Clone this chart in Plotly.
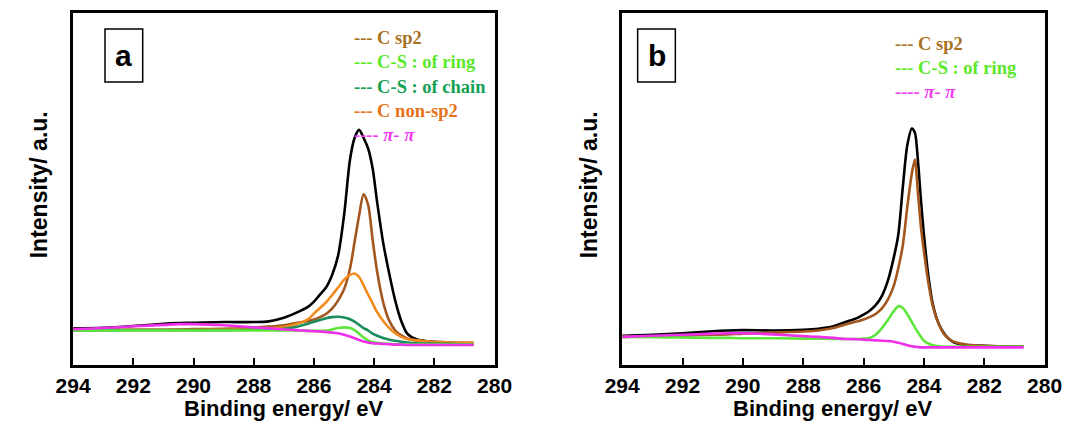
import plotly.graph_objects as go

# ---------------- data ----------------
energy_a = [294, 293, 292, 291, 290.5, 290, 289, 288, 287.5, 287, 286.6, 286.2, 286.0, 285.8,
            285.6, 285.4, 285.2, 285.0, 284.8, 284.65, 284.5, 284.35, 284.2, 284.05, 283.9,
            283.7, 283.5, 283.3, 283.1, 282.9, 282.6, 282.2, 281.5, 281.0, 280.7]
total_a = [10.4, 10.6, 11.1, 11.7, 11.9, 12.0, 12.2, 12.2, 12.4, 13.4, 14.8, 16.5, 18.0, 20.0,
           22.0, 25.5, 31.0, 42.5, 58.5, 64.5, 66.8, 64.5, 61.5, 55.8, 46.2,
           34.7, 26.0, 18.3, 12.5, 8.9, 7.3, 6.7, 6.2, 5.8, 5.8]
csp2_a = [9.9, 9.9, 10.0, 10.0, 10.1, 10.2, 10.3, 10.6, 10.9, 11.3, 11.9, 12.5, 12.9, 13.6,
          14.5, 16.0, 18.3, 21.5, 27.5, 35.0, 42.5, 48.5, 45.5, 35.5, 26.5,
          17.8, 12.6, 9.8, 8.4, 7.5, 7.0, 6.7, 6.4, 6.3, 6.3]
nonsp2_a = [10.0, 10.0, 10.0, 10.0, 10.0, 10.0, 10.1, 10.2, 10.4, 10.8, 11.6, 13.0, 14.6, 16.2,
            17.8, 19.8, 22.0, 24.2, 25.6, 26.0, 25.0, 22.6, 20.0, 17.5, 15.0,
            12.5, 10.5, 9.0, 8.0, 7.4, 7.0, 6.6, 6.4, 6.3, 6.3]
cs_chain_a = [9.9, 9.9, 9.9, 9.9, 9.9, 9.9, 9.9, 10.0, 10.1, 10.3, 10.8, 11.7, 12.3, 12.8,
              13.3, 13.6, 13.7, 13.5, 13.0, 12.3, 11.4, 10.5, 9.8, 8.9, 8.3,
              7.7, 7.2, 6.9, 6.6, 6.4, 6.2, 6.1, 6.0, 5.9, 5.9]
cs_ring_a = [9.8, 9.8, 9.8, 9.8, 9.8, 9.8, 9.8, 9.8, 9.8, 9.8, 9.8, 9.7, 9.7, 9.7,
             9.8, 10.1, 10.5, 10.7, 10.5, 9.9, 8.9, 7.8, 7.0, 6.5, 6.3,
             6.1, 6.0, 5.9, 5.9, 5.8, 5.8, 5.8, 5.8, 5.8, 5.8]
pipi_a = [10.2, 10.5, 11.0, 11.4, 11.6, 11.6, 11.3, 10.7, 10.4, 10.1, 9.9, 9.7, 9.6, 9.5,
          9.4, 9.2, 9.0, 8.6, 8.1, 7.6, 7.1, 6.7, 6.4, 6.2, 6.1,
          6.0, 5.9, 5.8, 5.8, 5.7, 5.7, 5.7, 5.7, 5.7, 5.7]

energy_b = [294, 293, 292, 291, 290.5, 290, 289, 288, 287.5, 287, 286.6, 286.2, 286.0, 285.8,
            285.6, 285.4, 285.2, 285.0, 284.85, 284.7, 284.55, 284.4, 284.3, 284.2, 284.1,
            284.0, 283.85, 283.7, 283.5, 283.3, 283.1, 282.9, 282.6, 282.2, 281.5, 281.0, 280.7]
total_b = [8.3, 8.6, 9.0, 9.6, 9.8, 9.9, 9.8, 10.0, 10.3, 11.0, 12.2, 13.4, 14.3, 15.4,
           17.0, 19.5, 23.8, 30.5, 37.0, 50.5, 62.5, 67.2, 66.0, 58.2, 47.0,
           37.0, 25.1, 17.0, 11.5, 8.6, 6.9, 6.1, 5.7, 5.5, 5.3, 5.2, 5.2]
csp2_b = [8.0, 8.1, 8.3, 8.6, 8.7, 8.9, 9.2, 9.5, 9.8, 10.5, 11.5, 12.4, 12.9, 13.6,
          14.5, 16.0, 18.5, 22.5, 27.5, 34.0, 45.0, 54.5, 58.4, 49.0, 39.3,
          32.3, 23.2, 16.5, 11.5, 8.4, 7.0, 6.3, 5.8, 5.5, 5.3, 5.2, 5.2]
cs_ring_b = [8.0, 7.9, 7.8, 7.7, 7.7, 7.6, 7.6, 7.5, 7.5, 7.4, 7.4, 7.4, 7.5, 7.7,
             8.6, 10.4, 12.7, 15.3, 16.7, 16.2, 14.4, 12.2, 10.7, 9.3, 8.0,
             6.9, 6.1, 5.6, 5.3, 5.2, 5.2, 5.2, 5.2, 5.2, 5.2, 5.2, 5.2]
pipi_b = [8.0, 8.3, 8.6, 8.9, 9.0, 9.0, 8.7, 8.2, 8.0, 7.7, 7.4, 7.3, 7.2, 7.1,
          7.0, 6.9, 6.8, 6.6, 6.3, 6.0, 5.6, 5.3, 5.2, 5.1, 5.0,
          5.0, 5.0, 5.0, 5.0, 5.0, 5.0, 5.0, 5.0, 5.0, 5.0, 5.0, 5.0]

x_ticks = [294, 292, 290, 288, 286, 284, 282, 280]
x_title = "Binding energy/ eV"
y_title = "Intensity/ a.u."
legend_a = ["--- C sp2", "--- C-S : of ring", "--- C-S : of chain", "--- C non-sp2", "---- <i>π- π</i>"]
legend_b = ["--- C sp2", "--- C-S : of ring", "---- <i>π- π</i>"]

# ---------------- styling ----------------
W, H = 1081, 423
C_BLACK = "#000000"
C_SP2 = "#a3571f"
C_NON = "#f28a1c"
C_RING = "#5fe63c"
C_CHAIN = "#1b8c5c"
C_PI = "#ee30ea"
T_SP2 = "#a8721f"
T_RING = "#5ce82a"
T_CHAIN = "#14a052"
T_NON = "#e8721a"
T_PI = "#f03cf0"

fig = go.Figure()

def add(x, y, color, xa, ya):
    fig.add_trace(go.Scatter(x=x, y=y, mode="lines", xaxis=xa, yaxis=ya,
                             line=dict(color=color, width=2.6, shape="spline", smoothing=0.8),
                             hoverinfo="skip", showlegend=False))

add(energy_a, total_a, C_BLACK, "x", "y")
add(energy_a, csp2_a, C_SP2, "x", "y")
add(energy_a, nonsp2_a, C_NON, "x", "y")
add(energy_a, cs_chain_a, C_CHAIN, "x", "y")
add(energy_a, cs_ring_a, C_RING, "x", "y")
add(energy_a, pipi_a, C_PI, "x", "y")

add(energy_b, total_b, C_BLACK, "x2", "y2")
add(energy_b, csp2_b, C_SP2, "x2", "y2")
add(energy_b, cs_ring_b, C_RING, "x2", "y2")
add(energy_b, pipi_b, C_PI, "x2", "y2")

ydom = [1 - 365 / H, 1 - 13 / H]
xaxis_common = dict(range=[294, 280], tickvals=x_ticks, ticktext=[f"<b>{t}</b>" for t in x_ticks],
                    ticks="inside", ticklen=7, tickwidth=2, tickcolor="black",
                    showline=True, linecolor="black", linewidth=2.5, mirror=True,
                    showgrid=False, zeroline=False,
                    tickfont=dict(family="Liberation Sans, Arial", size=21, color="black"))
yaxis_common = dict(range=[0, 100], showticklabels=False, ticks="",
                    showline=True, linecolor="black", linewidth=2.5, mirror=True,
                    showgrid=False, zeroline=False, domain=ydom)

fig.update_layout(
    width=W, height=H, margin=dict(l=0, r=0, t=0, b=0),
    plot_bgcolor="white", paper_bgcolor="white", showlegend=False,
    xaxis=dict(domain=[57 / W, 493 / W], anchor="y", **xaxis_common),
    yaxis=dict(anchor="x", **yaxis_common),
    xaxis2=dict(domain=[625 / W, 1062 / W], anchor="y2", **xaxis_common),
    yaxis2=dict(anchor="x2", **yaxis_common),
)

ann = []
shapes = []
title_font = dict(family="Liberation Sans, Arial", size=22, color="black")
for (x0, x1), ytx in [((57, 493), 22), ((625, 1062), 591)]:
    ann.append(dict(xref="paper", yref="paper", x=(x0 + x1) / 2 / W, y=1 - 408 / H,
                    text=f"<b>{x_title}</b>", showarrow=False, font=title_font,
                    xanchor="center", yanchor="middle"))
    ann.append(dict(xref="paper", yref="paper", x=ytx / W, y=1 - 185 / H,
                    text=f"<b>{y_title}</b>", showarrow=False,
                    font=dict(family="Liberation Sans, Arial", size=23, color="black"),
                    textangle=-90, xanchor="center", yanchor="middle"))

for (bx0, bx1), letter in [((90, 129), "a"), ((641, 680), "b")]:
    shapes.append(dict(type="rect", xref="paper", yref="paper",
                       x0=bx0 / W, x1=bx1 / W, y0=1 - 82 / H, y1=1 - 29 / H,
                       line=dict(color="black", width=1.5), fillcolor="white"))
    ann.append(dict(xref="paper", yref="paper", x=(bx0 + bx1) / 2 / W, y=1 - 56 / H,
                    text=f"<b>{letter}</b>", showarrow=False,
                    font=dict(family="Liberation Sans, Arial", size=30, color="black"),
                    xanchor="center", yanchor="middle"))

leg_font = "Liberation Serif, Cambria, serif"
for txt, col, yy in zip(legend_a, [T_SP2, T_RING, T_CHAIN, T_NON, T_PI], [38.5, 62, 86.5, 110.5, 134.5]):
    ann.append(dict(xref="paper", yref="paper", x=345 / W, y=1 - yy / H, text=f"<b>{txt}</b>",
                    showarrow=False, xanchor="left", yanchor="middle",
                    font=dict(family=leg_font, size=18.5, color=col)))
for txt, col, yy in zip(legend_b, [T_SP2, T_RING, T_PI], [44.5, 68, 91.5]):
    ann.append(dict(xref="paper", yref="paper", x=905 / W, y=1 - yy / H, text=f"<b>{txt}</b>",
                    showarrow=False, xanchor="left", yanchor="middle",
                    font=dict(family=leg_font, size=18.5, color=col)))

fig.update_layout(annotations=ann, shapes=shapes)
fig.write_html("out.html")
